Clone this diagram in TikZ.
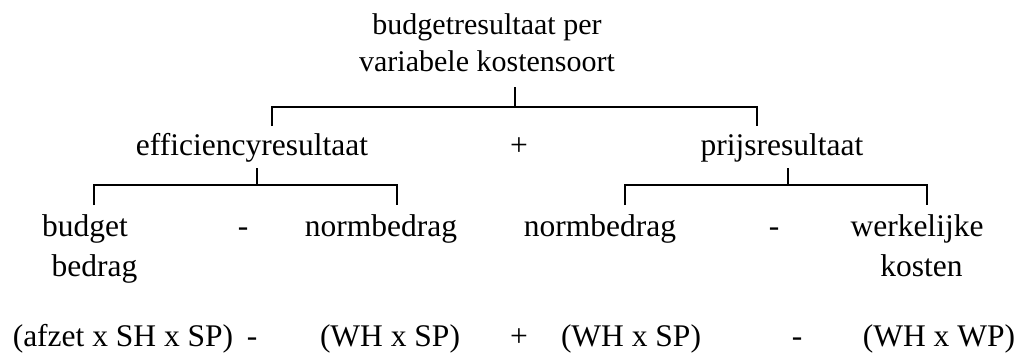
\documentclass[tikz,border=0pt]{standalone}
\usepackage{fontspec}
\setmainfont{Liberation Serif}
\begin{document}
\begin{tikzpicture}[x=1bp,y=-1bp,
  lbl/.style={inner sep=0pt,outer sep=0pt,anchor=base,align=center,
    font=\fontsize{31.5bp}{40bp}\selectfont},
  ttl/.style={lbl,font=\fontsize{30bp}{37bp}\selectfont},
  brk/.style={line width=2bp,line cap=butt,line join=miter}]
\useasboundingbox (0,0) rectangle (1024,362);
% level 1 (base = last line)
\node[ttl] (top) at (487,71) {budgetresultaat per\\variabele kostensoort};
% level 2
\node[lbl] (eff) at (252,155) {efficiencyresultaat};
\node[lbl] (plus1) at (519,155) {+};
\node[lbl] (prijs) at (782,155) {prijsresultaat};
% level 3
\node[lbl] (budget) at (85,276) {budget\\\hspace*{19bp}bedrag};
\node[lbl] (min1) at (243,236) {-};
\node[lbl] (norm1) at (381,236) {normbedrag};
\node[lbl] (norm2) at (600,236) {normbedrag};
\node[lbl] (min2) at (774,236) {-};
\node[lbl] (werk) at (917,276) {werkelijke\\\hspace*{9bp}kosten};
% level 4
\node[lbl] (f1) at (123,346) {(afzet x SH x SP)};
\node[lbl] (m3) at (252,346) {-};
\node[lbl] (f2) at (390,346) {(WH x SP)};
\node[lbl] (plus2) at (519,346) {+};
\node[lbl] (f3) at (631,346) {(WH x SP)};
\node[lbl] (m4) at (797,346) {-};
\node[lbl] (f4) at (939,346) {(WH x WP)};
% brackets
\coordinate (t0) at (515,87);
\coordinate (t1) at (515,107);
\coordinate (tl) at (272,107);
\coordinate (tr) at (757,107);
\coordinate (tld) at (272,126);
\coordinate (trd) at (757,126);
\draw[brk] (t0) -- (t1);
\draw[brk] (tld) -- (tl) -- (tr) -- (trd);
\coordinate (e0) at (257,168);
\coordinate (e1) at (257,185);
\coordinate (el) at (94,185);
\coordinate (er) at (397,185);
\coordinate (eld) at (94,205);
\coordinate (erd) at (397,205);
\draw[brk] (e0) -- (e1);
\draw[brk] (eld) -- (el) -- (er) -- (erd);
\coordinate (p0) at (788,168);
\coordinate (p1) at (788,185);
\coordinate (pl) at (625,185);
\coordinate (pr) at (927,185);
\coordinate (pld) at (625,205);
\coordinate (prd) at (927,205);
\draw[brk] (p0) -- (p1);
\draw[brk] (pld) -- (pl) -- (pr) -- (prd);
\end{tikzpicture}
\end{document}
